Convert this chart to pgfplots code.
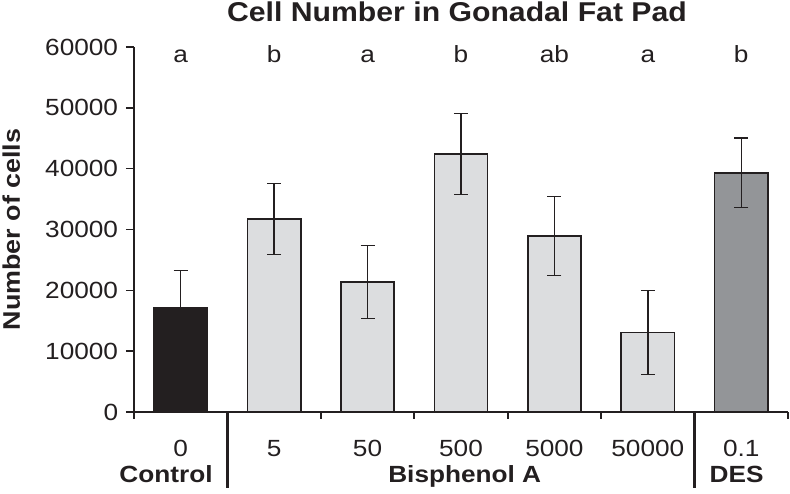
\documentclass[border=0pt]{standalone}
\usepackage{fontspec}
\setmainfont{Liberation Sans}
\usepackage{pgfplots}
\pgfplotsset{compat=1.18}
\usetikzlibrary{calc}
\definecolor{ink}{HTML}{231F20}
\definecolor{ctrl}{HTML}{231F20}
\definecolor{bpa}{HTML}{DCDDDF}
\definecolor{des}{HTML}{939598}
\newcommand{\lab}{\fontsize{11.7}{14}\selectfont}

\pgfplotsset{
  cellbar/.style={ybar, bar shift=0pt, bar width=0.57, draw=ink, line width=0.75pt,
    error bars/.cd, y dir=both, y explicit,
    error bar style={ink, line width=0.75pt},
    error mark options={rotate=90, mark size=3.5pt, ink, line width=0.75pt},
    /pgfplots/.cd},
}
\tikzset{txt/.style={anchor=base, inner sep=0pt, font=\lab, text=ink, xscale=1.12}}

\begin{document}
\begin{tikzpicture}
\begin{axis}[
  name=ax,
  scale only axis, width=327pt, height=182.5pt,
  xmin=-0.5, xmax=6.5, ymin=0, ymax=60000,
  axis x line=bottom, axis y line=left,
  axis line style={-, draw=ink, line width=0.8pt},
  tick align=outside,
  ytick={0,10000,...,60000},
  scaled y ticks=false,
  yticklabel style={/pgf/number format/fixed, /pgf/number format/set thousands separator={}},
  major tick length=4pt, minor tick length=3.5pt,
  every tick/.style={draw=ink, line width=0.8pt},
  xtick={0,...,6},
  xticklabels={0,5,50,500,5000,50000,0.1},
  major x tick style={draw=none},
  minor xtick={-0.5,0.5,...,6.5},
  ticklabel style={font=\lab, text=ink, xscale=1.12},
  /pgf/number format/assume math mode=true,
  xticklabel style={anchor=base, inner sep=0pt, yshift=-18.5pt},
  ylabel={Number of cells},
  ylabel style={font=\fontsize{12}{14}\selectfont\bfseries, text=ink, inner sep=0pt,
    at={($(axis description cs:0,0.5)+(-66pt,0)$)}, anchor=north, xscale=1.12},
  title={Cell Number in Gonadal Fat Pad},
  title style={font=\bfseries\fontsize{13.6}{16}\selectfont, text=ink, inner sep=0pt,
    at={(axis description cs:0.5,1)}, anchor=base, yshift=6.5pt, xshift=-2pt, xscale=1.11},
  clip=false,
]
\addplot[fill=ctrl, cellbar] coordinates {(0,17100) +- (0,6200)};
\addplot[fill=bpa, cellbar] coordinates {
  (1,31700) +- (0,5850)
  (2,21400) +- (0,6000)
  (3,42400) +- (0,6650)
  (4,28900) +- (0,6500)
  (5,13100) +- (0,6900)};
\addplot[fill=des, cellbar] coordinates {(6,39300) +- (0,5700)};

\node[txt] at (axis cs:0,57400) {a};
\node[txt] at (axis cs:1,57400) {b};
\node[txt] at (axis cs:2,57400) {a};
\node[txt] at (axis cs:3,57400) {b};
\node[txt] at (axis cs:4,57400) {ab};
\node[txt] at (axis cs:5,57400) {a};
\node[txt] at (axis cs:6,57400) {b};

\draw[ink, line width=1.6pt] (axis cs:0.5,0) -- ([yshift=-38pt]axis cs:0.5,0);
\draw[ink, line width=1.6pt] (axis cs:5.5,0) -- ([yshift=-38pt]axis cs:5.5,0);

\node[txt, font=\lab\bfseries, yshift=-35.5pt] at (axis cs:-0.157,0) {Control};
\node[txt, font=\lab\bfseries, yshift=-35.5pt] at (axis cs:3.04,0) {Bisphenol A};
\node[txt, font=\lab\bfseries, yshift=-35.5pt] at (axis cs:5.95,0) {DES};

\path ([xshift=-67pt,yshift=-41pt]axis cs:-0.5,0) rectangle ([xshift=1pt,yshift=23.5pt]axis cs:6.5,60000);
\end{axis}
\end{tikzpicture}
\end{document}
